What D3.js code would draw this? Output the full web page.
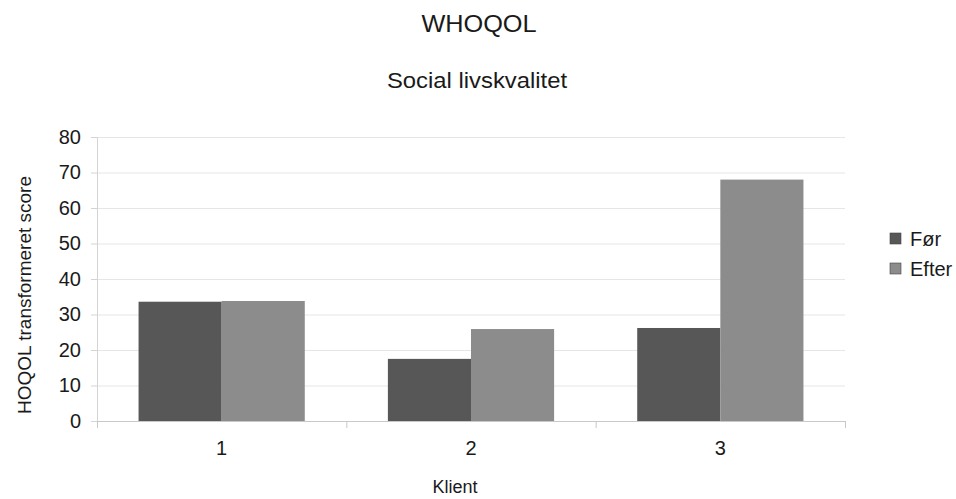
<!DOCTYPE html>
<html>
<head>
<meta charset="utf-8">
<script src="https://cdn.jsdelivr.net/npm/d3@7"></script>
<style>
  body { margin: 0; background: #fff; }
  svg text { font-family: "Liberation Sans", Arial, sans-serif; fill: #1a1a1a; }
</style>
</head>
<body>
<div id="chart"></div>
<script>
// Chart data
let clients = ['1', '2', '3'];
let series = ['Før', 'Efter'];
let forValues = [33.6, 17.5, 26.2];
let efterValues = [33.8, 25.9, 68.0];
let yTicks = [0, 10, 20, 30, 40, 50, 60, 70, 80];
let seriesColor = ['#575757', '#8c8c8c'];

let width = 956, height = 499;
let margin = {top: 137, right: 111, bottom: 78, left: 97};
let plotW = width - margin.left - margin.right;
let plotH = height - margin.top - margin.bottom;

let rows = clients.map(function(c, i) {
    return {client: c, values: [forValues[i], efterValues[i]]};
});

let svg = d3.select('#chart')
    .append('svg')
    .attr('width', width)
    .attr('height', height);

// Titles (scan is slightly stretched horizontally)
svg.append('text')
    .attr('transform', 'translate(479,32) scale(1.1,1)')
    .attr('text-anchor', 'middle')
    .attr('font-size', '23px')
    .text('WHOQOL');

svg.append('text')
    .attr('transform', 'translate(477,88) scale(1.06,1)')
    .attr('text-anchor', 'middle')
    .attr('font-size', '22.5px')
    .text('Social livskvalitet');

let g = svg.append('g')
    .attr('transform', 'translate(' + margin.left + ',' + margin.top + ')');

// Scales
let x0 = d3.scaleBand()
    .domain(clients)
    .range([0, plotW])
    .paddingInner(1 / 3)
    .paddingOuter(1 / 6);

let x1 = d3.scaleBand()
    .domain(series)
    .range([0, x0.bandwidth()]);

let y = d3.scaleLinear()
    .domain([0, 80])
    .range([plotH, 0]);

// Grid lines
g.append('g')
    .selectAll('line')
    .data(yTicks)
    .enter()
    .append('line')
    .attr('x1', 0)
    .attr('x2', plotW)
    .attr('y1', function(d) { return y(d) + 0.5; })
    .attr('y2', function(d) { return y(d) + 0.5; })
    .style('stroke', '#e6e6e6')
    .style('stroke-width', 1);

// Y axis
let yAxis = g.append('g')
    .call(d3.axisLeft(y).tickValues(yTicks).tickSize(6).tickPadding(10));
yAxis.select('.domain').style('stroke', '#d4d4d4');
yAxis.selectAll('.tick line').style('stroke', '#d4d4d4');
yAxis.selectAll('.tick text')
    .attr('font-size', '20px')
    .style('font-family', '"Liberation Sans", Arial, sans-serif')
    .style('fill', '#1a1a1a');

// Bars
let groups = g.selectAll('.client-group')
    .data(rows)
    .enter()
    .append('g')
    .attr('class', 'client-group')
    .attr('transform', function(d) { return 'translate(' + x0(d.client) + ',0)'; });

groups.selectAll('rect')
    .data(function(d) {
        return d.values.map(function(v, i) { return {key: series[i], value: v, index: i}; });
    })
    .enter()
    .append('rect')
    .attr('x', function(d) { return x1(d.key); })
    .attr('y', function(d) { return y(d.value); })
    .attr('width', x1.bandwidth())
    .attr('height', function(d) { return plotH - y(d.value); })
    .style('fill', function(d) { return seriesColor[d.index]; });

// X axis with ticks between categories
g.append('line')
    .attr('x1', 0).attr('x2', plotW)
    .attr('y1', plotH + 0.5).attr('y2', plotH + 0.5)
    .style('stroke', '#c8c8c8');

let step = x0.step();
g.append('g')
    .selectAll('line')
    .data(d3.range(clients.length + 1))
    .enter()
    .append('line')
    .attr('x1', function(i) { return i * step + 0.5; })
    .attr('x2', function(i) { return i * step + 0.5; })
    .attr('y1', plotH)
    .attr('y2', plotH + 7)
    .style('stroke', '#c8c8c8');

g.append('g')
    .selectAll('text')
    .data(clients)
    .enter()
    .append('text')
    .attr('x', function(d) { return x0(d) + x0.bandwidth() / 2; })
    .attr('y', plotH + 34)
    .attr('text-anchor', 'middle')
    .attr('font-size', '20px')
    .text(function(d) { return d; });

// Axis titles
svg.append('text')
    .attr('x', 455).attr('y', 493)
    .attr('text-anchor', 'middle')
    .attr('font-size', '18px')
    .text('Klient');

svg.append('text')
    .attr('transform', 'translate(31,295) rotate(-90)')
    .attr('text-anchor', 'middle')
    .attr('font-size', '19px')
    .text('HOQOL transformeret score');

// Legend
let legend = svg.append('g')
    .attr('transform', 'translate(890,233)');

let legendRow = legend.selectAll('g')
    .data(series)
    .enter()
    .append('g')
    .attr('transform', function(d, i) { return 'translate(0,' + (i * 30) + ')'; });

legendRow.append('rect')
    .attr('width', 11)
    .attr('height', 11)
    .style('fill', function(d, i) { return seriesColor[i]; })
    .style('stroke', '#444')
    .style('stroke-width', 0.6);

legendRow.append('text')
    .attr('x', 20)
    .attr('y', 13)
    .attr('font-size', '20px')
    .text(function(d) { return d; });
</script>
</body>
</html>
